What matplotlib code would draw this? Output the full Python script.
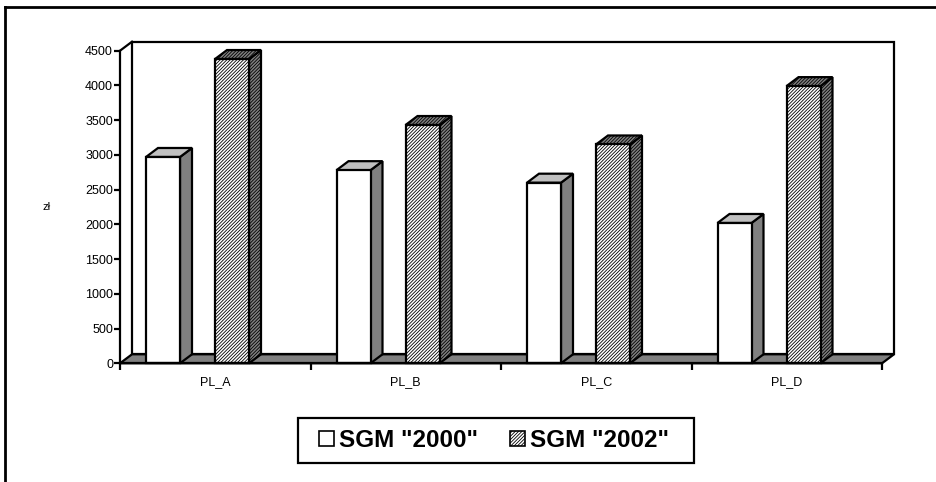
import matplotlib
matplotlib.use("Agg")
import matplotlib.pyplot as plt
from matplotlib.patches import Polygon, Rectangle
from matplotlib.lines import Line2D

plt.rcParams['font.family'] = ['Liberation Sans', 'DejaVu Sans']
plt.rcParams['hatch.linewidth'] = 0.6

categories = ["PL_A", "PL_B", "PL_C", "PL_D"]
series_names = ['SGM "2000"', 'SGM "2002"']
sgm_2000 = [2970, 2780, 2600, 2020]
sgm_2002 = [4380, 3430, 3150, 3990]
y_ticks = [0, 500, 1000, 1500, 2000, 2500, 3000, 3500, 4000, 4500]
y_label = "zł"

W, H = 936, 482
fig = plt.figure(figsize=(W / 100, H / 100), dpi=100)

# front plane of the axes in pixels
x0_px, x1_px = 120, 882
y0_px, y1_px = 363.3, 50.7
ax = fig.add_axes([x0_px / W, 1 - y0_px / H, (x1_px - x0_px) / W, (y0_px - y1_px) / H])
ymax = 4500
ax.set_xlim(0, len(categories))
ax.set_ylim(0, ymax)

# depth offset (px -> data)
dx = 12 / ((x1_px - x0_px) / len(categories))
dy = 9 / ((y0_px - y1_px) / ymax)
n = len(categories)
lw = 1.6

# back wall
ax.add_patch(Polygon([(dx, dy), (dx, ymax + dy), (n + dx, ymax + dy), (n + dx, dy)],
                     closed=True, facecolor='white', edgecolor='black', lw=lw, clip_on=False, zorder=1))
# left wall top diagonal
ax.add_line(Line2D([0, dx], [ymax, ymax + dy], color='black', lw=lw, clip_on=False, zorder=2))
# floor
ax.add_patch(Polygon([(0, 0), (dx, dy), (n + dx, dy), (n, 0)], closed=True,
                     facecolor='#808080', edgecolor='black', lw=lw, clip_on=False, zorder=2))

bar_w = 34 / ((x1_px - x0_px) / n)
off_a = 26 / ((x1_px - x0_px) / n)
off_b = 95 / ((x1_px - x0_px) / n)
hatch = '/' * 10

def draw_bar(xl, v, front_fc, front_hatch, side_fc, side_hatch, top_fc, top_hatch, label=None):
    ax.bar(xl, v, width=bar_w, align='edge', facecolor=front_fc, hatch=front_hatch,
           edgecolor='black', lw=lw, zorder=4, clip_on=False, label=label)
    ax.add_patch(Polygon([(xl + bar_w, 0), (xl + bar_w + dx, dy), (xl + bar_w + dx, v + dy), (xl + bar_w, v)],
                         closed=True, facecolor=side_fc, hatch=side_hatch, edgecolor='black', lw=lw,
                         clip_on=False, zorder=3))
    ax.add_patch(Polygon([(xl, v), (xl + dx, v + dy), (xl + bar_w + dx, v + dy), (xl + bar_w, v)],
                         closed=True, facecolor=top_fc, hatch=top_hatch, edgecolor='black', lw=lw,
                         clip_on=False, zorder=3))

for i in range(n):
    draw_bar(i + off_a, sgm_2000[i], 'white', None, '#808080', None, '#c0c0c0', None,
             label=series_names[0] if i == 0 else None)
    draw_bar(i + off_b, sgm_2002[i], 'white', hatch, '#808080', hatch, '#808080', hatch,
             label=series_names[1] if i == 0 else None)

# axes styling
for s in ['top', 'right']:
    ax.spines[s].set_visible(False)
for s in ['left', 'bottom']:
    ax.spines[s].set_linewidth(lw)
    ax.spines[s].set_zorder(5)
ax.patch.set_visible(False)
ax.set_yticks(y_ticks)
ax.set_yticklabels([str(t) for t in y_ticks], fontsize=9)
ax.tick_params(axis='y', direction='out', length=4, width=lw, pad=1)
ax.set_xticks(range(n + 1))
ax.set_xticklabels([''] * (n + 1))
ax.tick_params(axis='x', which='major', direction='out', length=5, width=lw)
ax.set_xticks([i + 0.5 for i in range(n)], minor=True)
ax.set_xticklabels(categories, minor=True, fontsize=9)
ax.tick_params(axis='x', which='minor', length=0, pad=9)

fig.text(47 / W, 1 - 207 / H, y_label, fontsize=8, ha='center', va='center')

# legend
fig.add_artist(Rectangle((298 / W, 1 - 463 / H), (694 - 298) / W, 45 / H, transform=fig.transFigure,
                         facecolor='white', edgecolor='black', lw=lw, zorder=5))
handles = [Rectangle((0, 0), 1, 1, facecolor='white', edgecolor='black', lw=1.2),
           Rectangle((0, 0), 1, 1, facecolor='white', edgecolor='black', hatch='/' * 10, lw=1.2)]
leg = fig.legend(handles, series_names, loc='center', bbox_to_anchor=(494 / W, 1 - 440.5 / H),
                 ncol=2, frameon=False, prop={'weight': 'bold', 'size': 17.5},
                 handlelength=0.62, handleheight=0.62, handletextpad=0.2, columnspacing=1.3,
                 borderpad=0.3)
leg.set_zorder(6)

# outer frame
fig.add_artist(Line2D([5 / W, 1], [1 - 6.5 / H, 1 - 6.5 / H], color='black', lw=2, transform=fig.transFigure))
fig.add_artist(Line2D([5 / W, 5 / W], [0, 1 - 6.5 / H], color='black', lw=2, transform=fig.transFigure))

fig.savefig("out.png", dpi=100)
